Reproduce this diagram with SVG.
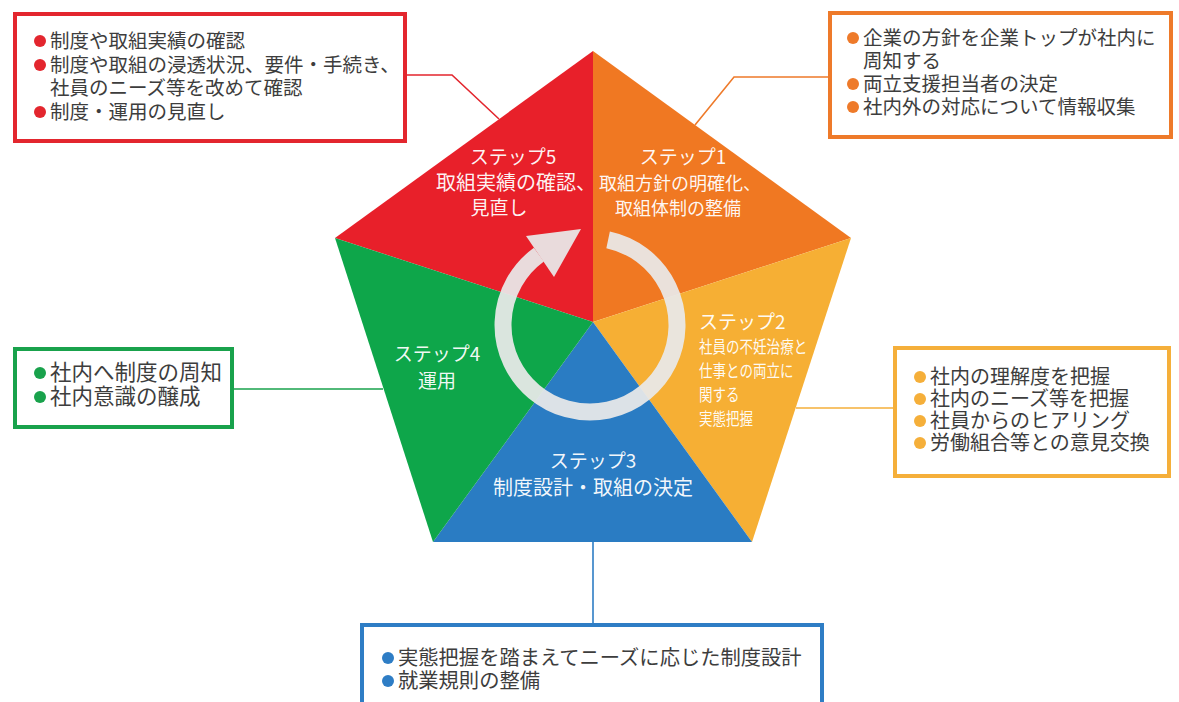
<svg xmlns="http://www.w3.org/2000/svg" width="1179" height="702" viewBox="0 0 1179 702">
<style>
.box{fill:#fff;stroke-width:4}
.bt{font-family:"Noto Sans CJK JP","Noto Sans",sans-serif;font-size:19.5px;fill:#3d3d3d}
.st{font-family:"Noto Sans CJK JP","Noto Sans",sans-serif;font-size:19px;fill:#fff;fill-opacity:0.95;text-anchor:middle}
.sm{font-family:"Noto Sans CJK JP","Noto Sans",sans-serif;font-size:16.5px;fill:#fff;fill-opacity:0.95}
.cn{fill:none;stroke-width:1.6}
</style>
<rect width="1179" height="702" fill="#fff"/>
<g id="connectors">
<polyline class="cn" stroke="#E3262E" points="406,75 452,75 499,119"/>
<polyline class="cn" stroke="#EE7A2A" points="829,77 734,77 695,125"/>
<line class="cn" stroke="#19A24C" x1="233" y1="389" x2="383" y2="389"/>
<line class="cn" stroke="#F5AF3A" x1="796" y1="408" x2="893" y2="408"/>
<line class="cn" stroke="#2E7DC5" x1="593" y1="542" x2="593" y2="623"/>
</g>
<g id="pentagon">
<polygon points="593,322 593,51 335,238" fill="#E8202A"/>
<polygon points="593,322 593,51 851,238" fill="#F07822"/>
<polygon points="593,322 851,238 752,542" fill="#F6AF34"/>
<polygon points="593,322 752,542 433,542" fill="#2A7CC3"/>
<polygon points="593,322 433,542 335,238" fill="#0EA64A"/>
</g>
<g id="cycle-arrow" opacity="0.93">
<path d="M 608.1 239.9 A 87 87 0 1 1 538.9 254.6" fill="none" stroke="#EAEAEA" stroke-width="17"/>
<polygon points="581,229 526,236 554,277" fill="#EAEAEA"/>
</g>
<g id="step1">
<text class="st" x="683" y="164">ステップ1</text>
<text class="st" x="680" y="190" style="font-size:18px">取組方針の明確化、</text>
<text class="st" x="678" y="215" style="font-size:18px">取組体制の整備</text>
</g>
<g id="step2">
<text class="st" x="699" y="329" style="text-anchor:start">ステップ2</text>
<g transform="translate(699 0) scale(0.82 1)">
<text class="sm" x="0" y="353">社員の不妊治療と</text>
<text class="sm" x="0" y="377">仕事との両立に</text>
<text class="sm" x="0" y="401">関する</text>
<text class="sm" x="0" y="425">実態把握</text>
</g>
</g>
<g id="step3">
<text class="st" x="593" y="468">ステップ3</text>
<text class="st" x="593" y="495" style="font-size:20px">制度設計・取組の決定</text>
</g>
<g id="step4">
<text class="st" x="437" y="361">ステップ4</text>
<text class="st" x="437" y="388">運用</text>
</g>
<g id="step5">
<text class="st" x="513" y="164">ステップ5</text>
<text class="st" x="516" y="190" style="font-size:20px">取組実績の確認、</text>
<text class="st" x="499" y="215">見直し</text>
</g>
<g id="box-step5">
<rect class="box" x="15" y="14" width="390" height="127" stroke="#E3262E"/>
<g fill="#E3262E"><circle cx="40" cy="41" r="6"/><circle cx="40" cy="65" r="6"/><circle cx="40" cy="112" r="6"/></g>
<text class="bt" x="50" y="48">制度や取組実績の確認</text>
<text class="bt" x="50" y="72">制度や取組の浸透状況、要件・手続き、</text>
<text class="bt" x="50" y="95">社員のニーズ等を改めて確認</text>
<text class="bt" x="50" y="119">制度・運用の見直し</text>
</g>
<g id="box-step1">
<rect class="box" x="830" y="13" width="341" height="124" stroke="#EE7A2A"/>
<g fill="#EE7A2A"><circle cx="853" cy="38" r="6"/><circle cx="853" cy="84" r="6"/><circle cx="853" cy="107" r="6"/></g>
<text class="bt" x="863" y="45">企業の方針を企業トップが社内に</text>
<text class="bt" x="863" y="68">周知する</text>
<text class="bt" x="863" y="91">両立支援担当者の決定</text>
<text class="bt" x="863" y="114">社内外の対応について情報収集</text>
</g>
<g id="box-step4">
<rect class="box" x="15" y="349" width="217" height="78" stroke="#19A24C"/>
<g fill="#19A24C"><circle cx="40" cy="373" r="6"/><circle cx="40" cy="397" r="6"/></g>
<text class="bt" x="50" y="380" style="font-size:21.5px">社内へ制度の周知</text>
<text class="bt" x="50" y="404" style="font-size:21.5px">社内意識の醸成</text>
</g>
<g id="box-step2">
<rect class="box" x="895" y="348" width="274" height="128" stroke="#F5AF3A"/>
<g fill="#F5AF3A"><circle cx="920" cy="377" r="6"/><circle cx="920" cy="399" r="6"/><circle cx="920" cy="421" r="6"/><circle cx="920" cy="443" r="6"/></g>
<text class="bt" x="930" y="384" style="font-size:20px">社内の理解度を把握</text>
<text class="bt" x="930" y="406" style="font-size:20px">社内のニーズ等を把握</text>
<text class="bt" x="930" y="428" style="font-size:20px">社員からのヒアリング</text>
<text class="bt" x="930" y="450" style="font-size:20px">労働組合等との意見交換</text>
</g>
<g id="box-step3">
<rect class="box" x="362" y="625" width="460" height="80" stroke="#2E7DC5"/>
<g fill="#2E7DC5"><circle cx="388" cy="658" r="6"/><circle cx="388" cy="681" r="6"/></g>
<text class="bt" x="398" y="665" style="font-size:20.3px">実態把握を踏まえてニーズに応じた制度設計</text>
<text class="bt" x="398" y="688" style="font-size:20.3px">就業規則の整備</text>
</g>
</svg>
